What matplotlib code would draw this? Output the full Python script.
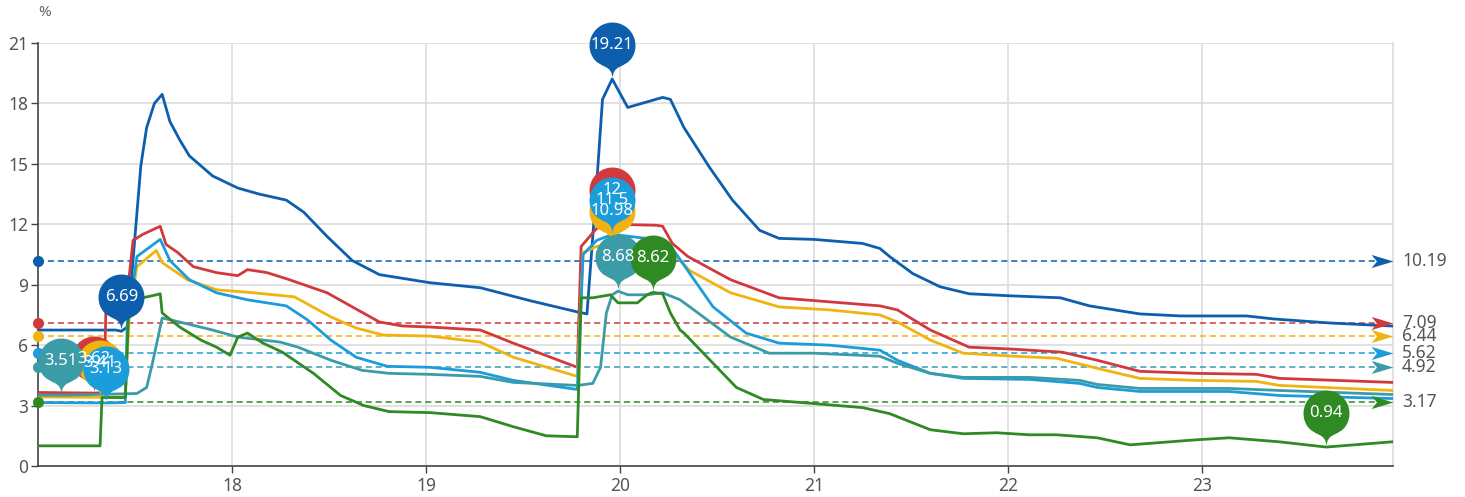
import numpy as np
import matplotlib.pyplot as plt
from matplotlib.path import Path

plt.rcParams['font.family'] = ['Noto Sans', 'DejaVu Sans']

# x values are days of the month (17.0 = day 17, 00:00)
blue_x = [17.00, 17.40, 17.43, 17.46, 17.47, 17.53, 17.56, 17.60, 17.64, 17.68, 17.73, 17.78,
          17.90, 18.03, 18.14, 18.28, 18.37, 18.49, 18.62, 18.76, 19.02, 19.28, 19.54, 19.78,
          19.83, 19.88, 19.91, 19.96, 20.04, 20.22, 20.26, 20.33, 20.46, 20.58, 20.72, 20.82,
          21.00, 21.25, 21.34, 21.39, 21.51, 21.65, 21.80, 22.01, 22.27, 22.42, 22.68, 22.89,
          23.23, 23.37, 23.66, 23.98]
blue_y = [6.75, 6.75, 6.69, 6.9, 7.9, 14.9, 16.8, 18.0, 18.45, 17.1, 16.2, 15.4,
          14.4, 13.8, 13.5, 13.2, 12.6, 11.4, 10.2, 9.5, 9.1, 8.85, 8.2, 7.65,
          7.55, 14.0, 18.2, 19.21, 17.8, 18.3, 18.2, 16.8, 14.85, 13.2, 11.7, 11.3,
          11.25, 11.05, 10.8, 10.4, 9.55, 8.9, 8.55, 8.45, 8.35, 7.95, 7.55, 7.45,
          7.45, 7.3, 7.1, 6.95]

red_x = [17.00, 17.29, 17.34, 17.35, 17.45, 17.46, 17.49, 17.54, 17.63, 17.66, 17.72, 17.80,
         17.92, 18.03, 18.08, 18.18, 18.28, 18.49, 18.62, 18.76, 18.88, 19.02, 19.28, 19.45,
         19.78, 19.80, 19.88, 19.96, 20.19, 20.22, 20.27, 20.35, 20.57, 20.82, 21.08, 21.34,
         21.43, 21.60, 21.80, 22.03, 22.28, 22.46, 22.68, 22.97, 23.28, 23.40, 23.98]
red_y = [3.65, 3.62, 3.65, 7.75, 7.5, 8.5, 11.2, 11.5, 11.9, 11.0, 10.6, 9.9,
         9.6, 9.45, 9.75, 9.6, 9.3, 8.6, 7.9, 7.15, 6.95, 6.9, 6.75, 6.1,
         4.9, 10.9, 11.8, 12.0, 11.95, 11.9, 11.05, 10.4, 9.25, 8.35, 8.15, 7.95,
         7.75, 6.75, 5.9, 5.8, 5.65, 5.25, 4.7, 4.6, 4.55, 4.35, 4.15]

yellow_x = [17.00, 17.32, 17.45, 17.47, 17.51, 17.61, 17.64, 17.77, 17.92, 18.11, 18.32, 18.35,
            18.51, 18.64, 18.78, 19.02, 19.28, 19.45, 19.78, 19.81, 19.88, 19.96, 20.19, 20.27,
            20.36, 20.57, 20.82, 21.08, 21.34, 21.43, 21.60, 21.77, 22.03, 22.25, 22.46, 22.68,
            22.97, 23.28, 23.40, 23.98]
yellow_y = [3.43, 3.41, 3.43, 7.5, 9.9, 10.7, 10.1, 9.25, 8.75, 8.6, 8.4, 8.25,
            7.4, 6.85, 6.5, 6.45, 6.15, 5.4, 4.45, 10.6, 10.9, 10.98, 10.9, 10.6,
            9.7, 8.6, 7.9, 7.75, 7.5, 7.15, 6.25, 5.6, 5.45, 5.35, 4.85, 4.35,
            4.25, 4.2, 4.0, 3.75]

sky_x = [17.00, 17.35, 17.45, 17.46, 17.51, 17.63, 17.68, 17.78, 17.92, 18.08, 18.28, 18.39,
         18.51, 18.64, 18.80, 19.02, 19.28, 19.45, 19.78, 19.81, 19.88, 19.96, 20.22, 20.27,
         20.48, 20.65, 20.82, 21.08, 21.34, 21.43, 21.60, 21.77, 22.11, 22.37, 22.46, 22.68,
         23.14, 23.40, 23.98]
sky_y = [3.15, 3.13, 3.15, 7.0, 10.4, 11.25, 10.2, 9.25, 8.6, 8.25, 7.95, 7.25,
         6.25, 5.4, 4.95, 4.9, 4.65, 4.25, 3.8, 10.5, 11.2, 11.5, 11.2, 10.8,
         7.9, 6.6, 6.1, 6.0, 5.75, 5.25, 4.6, 4.35, 4.3, 4.1, 3.9, 3.7,
         3.7, 3.5, 3.35]

teal_x = [17.00, 17.12, 17.51, 17.56, 17.59, 17.63, 17.64, 17.73, 17.90, 18.03, 18.25, 18.34,
          18.51, 18.67, 18.81, 19.02, 19.28, 19.45, 19.78, 19.86, 19.90, 19.93, 19.96, 19.99,
          20.04, 20.14, 20.22, 20.31, 20.36, 20.57, 20.77, 21.00, 21.34, 21.43, 21.60, 21.77,
          22.11, 22.37, 22.46, 22.68, 23.14, 23.40, 23.98]
teal_y = [3.52, 3.51, 3.6, 3.9, 5.1, 6.9, 7.35, 7.15, 6.75, 6.4, 6.15, 5.9,
          5.25, 4.75, 4.6, 4.55, 4.45, 4.15, 4.0, 4.1, 4.9, 7.6, 8.5, 8.68,
          8.5, 8.5, 8.6, 8.25, 7.9, 6.4, 5.6, 5.6, 5.45, 5.1, 4.6, 4.4,
          4.4, 4.25, 4.05, 3.85, 3.85, 3.75, 3.55]

green_x = [17.00, 17.32, 17.33, 17.45, 17.47, 17.54, 17.61, 17.63, 17.64, 17.73, 17.84, 17.92,
           17.99, 18.03, 18.08, 18.16, 18.26, 18.42, 18.56, 18.68, 18.81, 19.02, 19.28, 19.45,
           19.62, 19.78, 19.80, 19.86, 19.95, 19.99, 20.09, 20.14, 20.17, 20.22, 20.26, 20.31,
           20.33, 20.48, 20.60, 20.74, 21.00, 21.25, 21.39, 21.60, 21.77, 21.94, 22.11, 22.25,
           22.46, 22.63, 22.97, 23.14, 23.40, 23.64, 23.98]
green_y = [1.0, 1.0, 3.4, 3.4, 8.4, 8.35, 8.5, 8.55, 7.6, 6.9, 6.25, 5.9,
           5.5, 6.4, 6.6, 6.1, 5.65, 4.6, 3.5, 3.0, 2.7, 2.65, 2.45, 1.95,
           1.5, 1.45, 8.35, 8.35, 8.5, 8.1, 8.1, 8.5, 8.62, 8.55, 7.6, 6.75,
           6.6, 5.1, 3.9, 3.3, 3.1, 2.9, 2.6, 1.8, 1.6, 1.65, 1.55, 1.55,
           1.4, 1.05, 1.3, 1.4, 1.2, 0.94, 1.2]

colors = ['#0d5fad', '#d2393c', '#f0b310', '#1b9cdb', '#3b9ca7', '#2f8a24']
avg_values = [10.19, 7.09, 6.44, 5.62, 4.92, 3.17]
day_ticks = [18, 19, 20, 21, 22, 23]
y_ticks = [0, 3, 6, 9, 12, 15, 18, 21]

series = [(blue_x, blue_y), (red_x, red_y), (yellow_x, yellow_y),
          (sky_x, sky_y), (teal_x, teal_y), (green_x, green_y)]


def pin_path(r=23.0, c=34.0):
    """pin shape with its tip at (0, 0) and circle centre at (0, c)"""
    k = (c + np.sqrt(c * c + 4 * r * r)) / 2
    dy = r * r / k
    ang = np.arcsin(dy / r)
    dx = np.cos(ang) * r
    tx, ty = np.sin(ang), np.cos(ang)
    cp1, cp2 = 0.6 * r, 0.7 * r
    th = np.linspace(np.pi + ang, -ang, 60)
    verts = [(r * np.cos(t), c + r * np.sin(t)) for t in th]
    codes = [Path.MOVETO] + [Path.LINETO] * (len(verts) - 1)
    verts += [(dx - tx * cp1, c - dy - ty * cp1), (0, cp2), (0, 0),
              (0, cp2), (-dx + tx * cp1, c - dy - ty * cp1), (-dx, c - dy),
              (-dx, c - dy)]
    codes += [Path.CURVE4] * 6 + [Path.CLOSEPOLY]
    return Path(verts, codes)


pin = pin_path()
arrow = Path([(1, 0), (-1, 0.6), (-0.5, 0), (-1, -0.6), (1, 0)],
             [Path.MOVETO, Path.LINETO, Path.LINETO, Path.LINETO, Path.CLOSEPOLY])

fig = plt.figure(figsize=(14.65, 4.97), dpi=100)
ax = fig.add_axes([38 / 1465, 31 / 497, 1355 / 1465, 423 / 497])
ax.set_xlim(17.0, 23.985)
ax.set_ylim(0, 21)
ax.set_xticks(day_ticks)
ax.set_xticklabels([str(d) for d in day_ticks])
ax.set_yticks(y_ticks)
ax.grid(True, color='#dcdcdc', lw=1.2, zorder=0)
ax.set_axisbelow(True)
ax.spines['top'].set_visible(False)
ax.spines['right'].set_color('#dcdcdc')
ax.spines['right'].set_linewidth(1.2)
for s in ('left', 'bottom'):
    ax.spines[s].set_color('#444444')
    ax.spines[s].set_linewidth(1.2)
ax.tick_params(axis='both', colors='#444444', labelcolor='#555555', labelsize=12.5, length=5, width=1)
ax.tick_params(axis='x', pad=3)
ax.tick_params(axis='y', pad=2)
fig.text(45 / 1465, 1 - 13 / 497, '%', ha='center', va='center', fontsize=11, color='#666666')

ytr = ax.get_yaxis_transform()
for (xs, ys), col, avg in zip(series, colors, avg_values):
    ax.plot(xs, ys, color=col, lw=2.0, zorder=3, solid_joinstyle='round')
    # average line
    ax.plot([0, 0.988], [avg, avg], transform=ytr, ls=(0, (4, 2.5)), lw=1.1,
            color=col, zorder=2, clip_on=False)
    ax.plot([0], [avg], transform=ytr, marker='o', ms=8, mew=0, color=col,
            zorder=4, clip_on=False)
    ax.plot([0.9919], [avg], transform=ytr, marker=arrow, ms=15.8, mew=0, color=col,
            zorder=4, clip_on=False)
    ax.text(1.0066, avg, f'{avg:.2f}', transform=ytr, ha='left', va='center',
            fontsize=12.5, color='#555555')

# max / min pins
for (xs, ys), col in zip(series, colors):
    for idx in (int(np.argmin(ys)), int(np.argmax(ys))):
        ax.plot(xs[idx], ys[idx], marker=pin, ms=82, mew=0, color=col,
                zorder=5, clip_on=False)
        ax.annotate(f'{ys[idx]:g}', (xs[idx], ys[idx]), xytext=(0, 24.5),
                    textcoords='offset points', ha='center', va='center',
                    color='white', fontsize=12, zorder=6, annotation_clip=False)

fig.savefig('out.png', dpi=100)
